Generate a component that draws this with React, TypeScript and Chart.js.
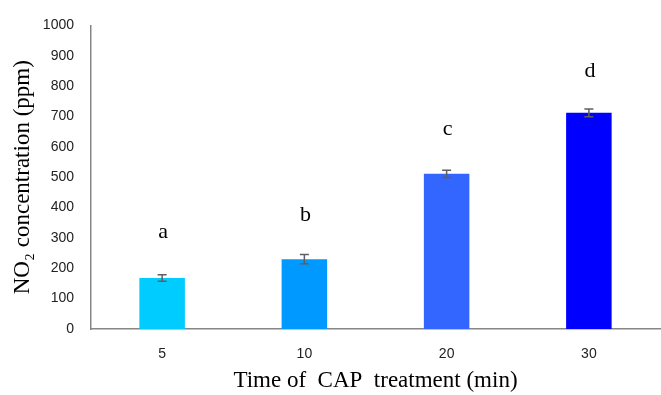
import React, { useEffect, useRef } from "react";
import { Chart, registerables } from "chart.js";

Chart.register(...registerables);

const categories = ["5", "10", "20", "30"];
const values = [168, 230, 511, 712];
const errors = [11, 15, 12, 13];
const letters = ["a", "b", "c", "d"];
const letterValues = [320, 375, 657, 848];
const barColors = ["#00CCFF", "#0099FF", "#3366FF", "#0000FF"];

const errorBarPlugin = {
  id: "errorBars",
  afterDatasetsDraw(chart: any) {
    const ctx = chart.ctx;
    const meta = chart.getDatasetMeta(0);
    const y = chart.scales.y;
    ctx.save();
    ctx.strokeStyle = "#5f5f5f";
    ctx.lineWidth = 1.5;
    meta.data.forEach((bar: any, i: number) => {
      const x = bar.x;
      const yTop = y.getPixelForValue(values[i] + errors[i]);
      const yBot = y.getPixelForValue(values[i] - errors[i]);
      ctx.beginPath();
      ctx.moveTo(x, yTop);
      ctx.lineTo(x, yBot);
      ctx.moveTo(x - 4.5, yTop);
      ctx.lineTo(x + 4.5, yTop);
      ctx.moveTo(x - 4.5, yBot);
      ctx.lineTo(x + 4.5, yBot);
      ctx.stroke();
    });
    ctx.fillStyle = "#000";
    ctx.font = '22px "Liberation Serif", "Times New Roman", serif';
    ctx.textAlign = "center";
    ctx.textBaseline = "middle";
    meta.data.forEach((bar: any, i: number) => {
      ctx.fillText(letters[i], bar.x + 1, y.getPixelForValue(letterValues[i]));
    });
    ctx.restore();
  },
};

export default function App() {
  const ref = useRef<HTMLCanvasElement | null>(null);
  useEffect(() => {
    if (!ref.current) return;
    const chart = new Chart(ref.current, {
      type: "bar",
      data: {
        labels: categories,
        datasets: [
          {
            data: values,
            backgroundColor: barColors,
            borderWidth: 0,
            categoryPercentage: 1,
            barPercentage: 0.32,
          },
        ],
      },
      options: {
        animation: false,
        responsive: false,
        maintainAspectRatio: false,
        layout: { padding: { top: 21, right: 1, left: 0, bottom: 0 } },
        plugins: { legend: { display: false }, tooltip: { enabled: false } },
        scales: {
          x: {
            grid: { display: false, drawTicks: false },
            border: { display: true, color: "#868686", width: 1.5 },
            ticks: {
              padding: 17,
              color: "#222",
              font: { family: '"Liberation Sans", Arial, sans-serif', size: 14 },
            },
            title: {
              display: true,
              text: "Time of  CAP  treatment (min)",
              color: "#000",
              font: { family: '"Liberation Serif", "Times New Roman", serif', size: 23 },
              padding: { top: 0, bottom: 0 },
            },
            afterFit(scale: any) {
              scale.height = 66;
            },
          },
          y: {
            min: 0,
            max: 1000,
            grid: { display: false, drawTicks: false },
            border: { display: true, color: "#868686", width: 1.5 },
            ticks: {
              stepSize: 100,
              padding: 17,
              color: "#222",
              font: { family: '"Liberation Sans", Arial, sans-serif', size: 14 },
              callback: (v: any) => String(v),
            },
            title: {
              display: true,
              text: "NO₂ concentration (ppm)",
              color: "#000",
              font: { family: '"Liberation Serif", "Times New Roman", serif', size: 23 },
              padding: { top: 9, bottom: 0 },
            },
            afterFit(scale: any) {
              scale.width = 91;
            },
          },
        },
      },
      plugins: [errorBarPlugin],
    });
    return () => chart.destroy();
  }, []);
  return (
    <div style={{ position: "fixed", left: 0, top: 0, width: 661, height: 395, background: "#fff" }}>
      <canvas ref={ref} width={661} height={395} style={{ width: 661, height: 395 }} />
    </div>
  );
}
